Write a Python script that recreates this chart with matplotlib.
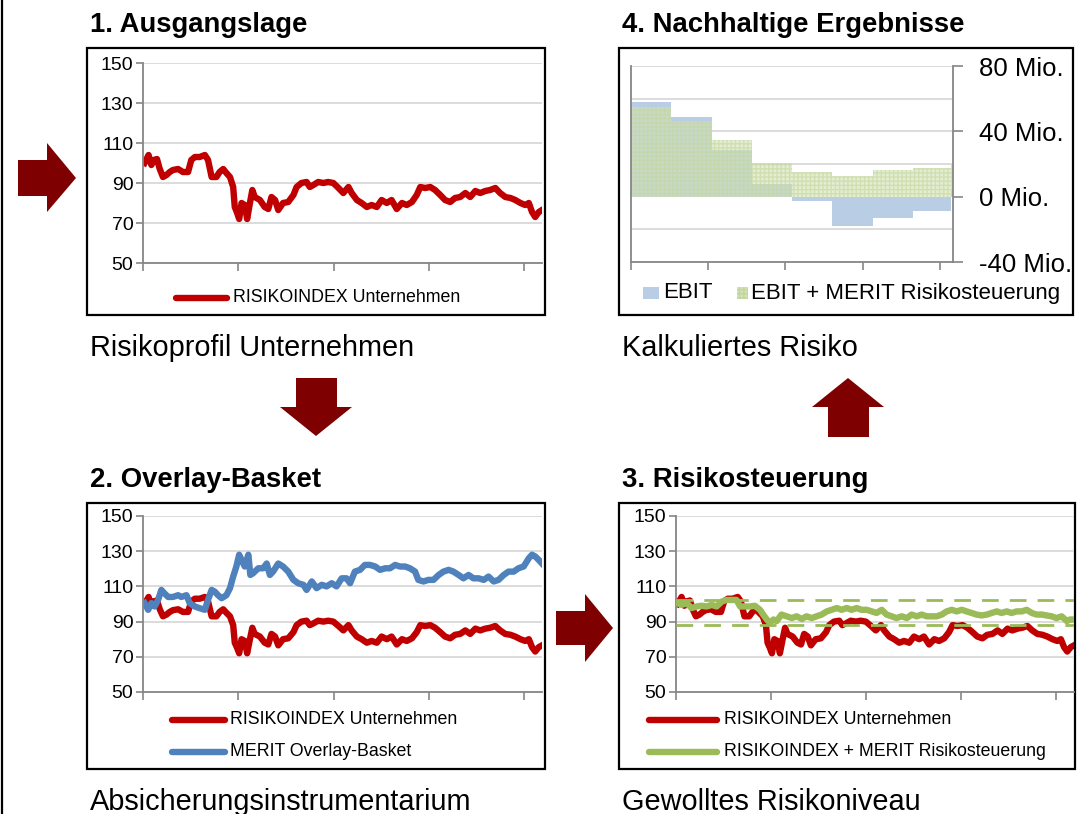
import matplotlib
matplotlib.use("Agg")
import matplotlib.pyplot as plt
from matplotlib.patches import Polygon, Rectangle

W, H = 1081, 814

# ---- data ----
# x in trading days (0..1000), ticks every ~239 days
red_days = [4, 14, 21, 27, 35, 42, 50, 59, 67, 75, 88, 100, 113, 121, 130, 142, 155, 163, 172, 184,
            192, 201, 209, 218, 226, 230, 236, 241, 247, 255, 261, 268, 274, 280, 293, 305, 314, 322,
            331, 339, 351, 364, 377, 385, 397, 410, 418, 427, 439, 452, 464, 477, 490, 502, 515, 523,
            536, 548, 561, 573, 586, 598, 611, 623, 636, 649, 661, 674, 686, 695, 707, 720, 732, 745,
            757, 770, 782, 795, 808, 820, 833, 845, 858, 870, 883, 895, 908, 921, 933, 946, 958, 967,
            975, 983, 992, 1000]
red_vals = [100, 104, 99, 101.5, 102, 97, 93, 94, 95.5, 96.5, 97, 95.5, 95.5, 101.5, 103, 103, 104,
            101.5, 93, 93, 95.5, 97, 95, 93, 88, 78, 75, 72, 80, 79, 72, 80, 86.5, 83, 81.5, 78, 77,
            83, 81.5, 76.5, 80, 80.5, 84, 88, 90, 90.5, 88, 89, 90.5, 90, 90.5, 90, 87.5, 85, 88, 85,
            81.5, 80, 78, 79, 78, 81.5, 80, 81.5, 77, 80, 79, 80.5, 84, 88, 87.5, 88, 86.5, 84, 81.5,
            80.5, 82.5, 83, 85, 83, 86, 85, 86, 86.5, 87.5, 85, 83, 82.5, 81.5, 80, 79, 80, 75.5, 73,
            75.5, 76.5]

blue_days = [4, 13, 21, 29, 38, 46, 54, 63, 75, 88, 96, 109, 117, 130, 142, 155, 163, 172, 180, 188,
             197, 209, 218, 226, 234, 241, 247, 255, 264, 269, 276, 289, 301, 310, 318, 326, 339, 351,
             364, 377, 389, 402, 410, 423, 435, 448, 460, 473, 485, 498, 510, 519, 531, 544, 556, 569,
             582, 594, 607, 619, 632, 644, 657, 669, 682, 690, 703, 715, 728, 741, 753, 766, 778, 791,
             803, 816, 828, 841, 854, 866, 879, 891, 904, 916, 929, 941, 954, 967, 975, 983, 992, 1000]
blue_vals = [100.5, 96.7, 100.5, 98.6, 102.4, 108, 106, 104, 104, 105, 104, 105, 100.5, 98.6, 97.6,
             96.7, 102.4, 108, 107, 105, 103.3, 105, 109, 115.6, 121.3, 128, 125, 121.3, 128, 116.5,
             117.5, 120.3, 120.3, 123, 116.5, 118.4, 123, 121.3, 118.4, 113.7, 111.8, 110.9, 108,
             112.8, 109, 110.9, 110, 111.8, 110, 114.6, 114.6, 111.8, 118.4, 119.4, 122.2, 122.2,
             121.3, 119.4, 120.3, 120.3, 122.2, 121.3, 121.3, 120.3, 118.4, 113.7, 112.8, 113.7,
             113.7, 116.5, 118.4, 119.4, 118.4, 116.5, 114.6, 116.5, 114.6, 114.6, 113.7, 115.6,
             112.8, 113.7, 116.5, 118.4, 118.4, 120.3, 121.3, 126, 128, 127, 125, 123]

green_days = [3, 14, 27, 39, 52, 64, 77, 90, 102, 115, 127, 140, 152, 161, 173, 186, 198, 211, 219,
              228, 236, 245, 253, 265, 278, 291, 303, 316, 328, 341, 353, 366, 379, 391, 404, 416,
              429, 441, 454, 466, 479, 492, 504, 517, 529, 542, 554, 567, 580, 592, 605, 617, 630,
              642, 655, 668, 680, 693, 705, 718, 730, 743, 755, 768, 781, 793, 806, 818, 831, 843,
              856, 869, 881, 894, 906, 919, 931, 944, 956, 969, 982, 990, 998]
green_vals = [100.5, 99.5, 100.5, 97.7, 98.6, 99, 98.6, 99.5, 98.6, 101.4, 102.3, 102.3, 102.3, 98.6,
              98.6, 98.6, 99, 96.7, 94, 91.2, 89.3, 91.2, 90.3, 94, 93, 92, 93, 91.5, 93, 92, 93, 94,
              95.8, 96.7, 97.7, 96.7, 97.7, 96.7, 97.7, 96.7, 96.7, 95.8, 94.9, 96.7, 94, 93, 92, 93,
              92, 94, 93, 94, 93, 93, 93, 94, 95.8, 96.7, 95.8, 96.7, 95.8, 94.9, 94, 93.5, 94, 94.9,
              95.8, 94.9, 95.8, 94.9, 95.8, 95.8, 96.7, 94.9, 94, 94, 93.5, 93, 92, 93, 90.3, 91.2,
              91.2]
band_levels = [102, 88]

period_start = [0, 1, 2, 3, 4, 5, 6, 7, 7.96, 8]
ebit = [58, 49, 28.3, 7.8, -2.5, -17.8, -12.9, -8.8, 3.7, 3.7]          # Mio.
ebit_merit = [55, 46.6, 34.9, 20.5, 15.4, 12.9, 16.4, 17.4, 19.5, 19.5]  # Mio.

day_ticks = [0, 239, 478, 717, 956]
period_ticks = [0, 1.92, 3.83, 5.76, 7.67]

RED = '#c00000'
BLUE = '#4f81bd'
GREEN = '#9bbb59'
DARK = '#7f0000'
GRID = '#d9d9d9'
AXC = '#868686'

fig = plt.figure(figsize=(W / 100, H / 100), dpi=100)

bg = fig.add_axes([0, 0, 1, 1], zorder=0)
bg.set_xlim(0, W)
bg.set_ylim(H, 0)
bg.axis('off')


def px_axes(l, t, r, b):
    ax = fig.add_axes([l / W, 1 - b / H, (r - l) / W, (b - t) / H], zorder=2)
    ax.patch.set_alpha(0)
    return ax


def line_panel(l, t, r, b):
    ax = px_axes(l, t, r, b)
    ax.set_xlim(0, 1000)
    ax.set_ylim(50, 150)
    ax.set_yticks(range(50, 151, 20))
    ax.set_xticks(day_ticks)
    ax.set_xticklabels([])
    ax.grid(axis='y', color=GRID, lw=1.3)
    ax.set_axisbelow(True)
    for s in ['top', 'right']:
        ax.spines[s].set_visible(False)
    for s in ['left', 'bottom']:
        ax.spines[s].set_color(AXC)
        ax.spines[s].set_linewidth(1.3)
    ax.tick_params(axis='x', length=6, width=1.2, color=AXC)
    ax.tick_params(axis='y', length=5, width=1.2, color=AXC, labelsize=14, pad=2)
    for lab in ax.get_yticklabels():
        lab.set_family('Liberation Sans')
    return ax


lw_series = 4.6

# frames
for (x0, y0, x1, y1) in [(87, 48, 545, 315), (619, 48, 1073, 315), (87, 503, 545, 769), (619, 503, 1075, 769)]:
    bg.add_patch(Rectangle((x0, y0), x1 - x0, y1 - y0, fill=False, ec='black', lw=1.6))
bg.plot([2, 2], [0, H], color='black', lw=1.6)

# ---- panel 1 ----
ax1 = line_panel(143, 63, 542, 263)
ax1.plot(red_days, red_vals, color=RED, lw=lw_series, solid_joinstyle='round')

# ---- panel 2 ----
ax2 = line_panel(143, 516, 542, 692)
ax2.plot(red_days, red_vals, color=RED, lw=lw_series, solid_joinstyle='round')
ax2.plot(blue_days, blue_vals, color=BLUE, lw=lw_series, solid_joinstyle='round')

# ---- panel 3 ----
ax3 = line_panel(676, 516, 1074, 692)
ax3.plot(red_days, red_vals, color=RED, lw=lw_series, solid_joinstyle='round', zorder=2)
for lev in band_levels:
    ax3.axhline(lev, color=GREEN, lw=2, dashes=(6, 4), zorder=3)
ax3.plot(green_days, green_vals, color=GREEN, lw=lw_series, solid_joinstyle='round', zorder=4)

# ---- panel 4 ----
ax4 = px_axes(631, 66, 953, 262)
ax4.set_xlim(0, 8)
ax4.set_ylim(-40, 80)
for g in [-20, 20, 40, 60, 80]:
    ax4.axhline(g, color=GRID, lw=1.3, zorder=0)
ax4.fill_between(period_start, 0, ebit, step='post', color='#b9cde5', lw=0, zorder=1)
ax4.fill_between(period_start, 0, ebit_merit, step='post', facecolor='#d3e2b4', alpha=0.6,
                 hatch='++++', edgecolor='#c3d69b', lw=0, zorder=2)
ax4.yaxis.tick_right()
ax4.set_yticks([-40, 0, 40, 80])
ax4.set_yticklabels(['%d Mio.' % v for v in [-40, 0, 40, 80]], family='Liberation Sans', fontsize=18.5)
ax4.set_xticks(period_ticks)
ax4.set_xticklabels([])
ax4.spines['top'].set_visible(False)
for s in ['left', 'right', 'bottom']:
    ax4.spines[s].set_color(AXC)
    ax4.spines[s].set_linewidth(1.3)
ax4.tick_params(axis='x', length=6, width=1.2, color=AXC)
ax4.tick_params(axis='y', length=7, width=1.2, color=AXC, pad=12)

# ---- legends (drawn in pixel space) ----
leg_font = dict(family='Liberation Sans', fontsize=12.8, va='center')
bg.plot([176, 227], [298, 298], color=RED, lw=lw_series, solid_capstyle='round')
bg.text(233, 298, 'RISIKOINDEX Unternehmen', **leg_font)

bg.plot([172, 225], [720, 720], color=RED, lw=lw_series, solid_capstyle='round')
bg.text(230, 720, 'RISIKOINDEX Unternehmen', **leg_font)
bg.plot([172, 225], [752, 752], color=BLUE, lw=lw_series, solid_capstyle='round')
bg.text(230, 752, 'MERIT Overlay-Basket', **leg_font)

bg.plot([649, 717], [720, 720], color=RED, lw=lw_series, solid_capstyle='round')
bg.text(724, 720, 'RISIKOINDEX Unternehmen', **leg_font)
bg.plot([649, 717], [752, 752], color=GREEN, lw=lw_series, solid_capstyle='round')
bg.text(724, 752, 'RISIKOINDEX + MERIT Risikosteuerung', **leg_font)

bg.add_patch(Rectangle((643, 287), 16, 12, color='#b9cde5', lw=0))
bg.text(663, 293, 'EBIT', family='Liberation Sans', fontsize=16, va='center')
bg.add_patch(Rectangle((737, 287), 11, 12, facecolor='#d3e2b4', hatch='++++', edgecolor='#c3d69b', lw=0))
bg.text(751, 293, 'EBIT + MERIT Risikosteuerung', family='Liberation Sans', fontsize=16, va='center')

# ---- titles and captions ----
tfont = dict(family='Liberation Sans', fontsize=19.8, fontweight='bold', va='baseline')
bg.text(90, 32, '1. Ausgangslage', **tfont)
bg.text(622, 32, '4. Nachhaltige Ergebnisse', **tfont)
bg.text(90, 487, '2. Overlay-Basket', **tfont)
bg.text(622, 487, '3. Risikosteuerung', **tfont)

cfont = dict(family='Liberation Sans', fontsize=20.8, va='baseline')
bg.text(90, 356, 'Risikoprofil Unternehmen', **cfont)
bg.text(622, 356, 'Kalkuliertes Risiko', **cfont)
bg.text(90, 810, 'Absicherungsinstrumentarium', **cfont)
bg.text(622, 810, 'Gewolltes Risikoniveau', **cfont)

# ---- arrows ----
arrows = [
    [(18, 160), (47, 160), (47, 143), (76, 178), (47, 212), (47, 196), (18, 196)],
    [(556, 611), (585, 611), (585, 594), (613, 628), (585, 662), (585, 645), (556, 645)],
    [(296, 378), (337, 378), (337, 407), (352, 407), (316, 436), (280, 407), (296, 407)],
    [(812, 407), (848, 378), (884, 407), (869, 407), (869, 437), (828, 437), (828, 407)],
]
for pts in arrows:
    bg.add_patch(Polygon(pts, closed=True, color=DARK, lw=0))

fig.savefig('out.png', dpi=100)
